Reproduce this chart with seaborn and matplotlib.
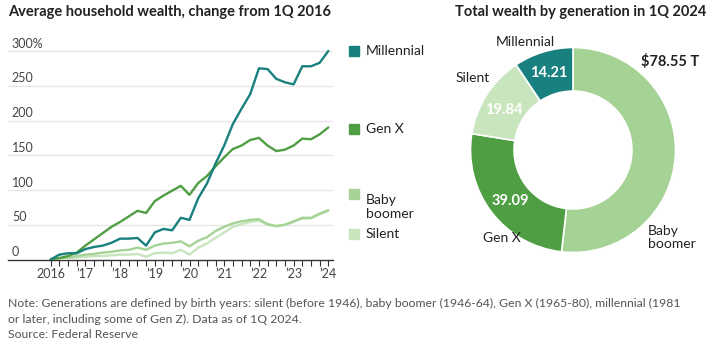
import numpy as np
import pandas as pd
import seaborn as sns
import matplotlib
matplotlib.use("Agg")
import matplotlib.pyplot as plt
from matplotlib.patches import Rectangle
import matplotlib.transforms as mtransforms

sns.set_theme(style="white")
plt.rcParams['font.family'] = ['Lato', 'DejaVu Sans']

# ---------------- data ----------------
generations = ["Millennial", "Gen X", "Baby boomer", "Silent"]
colors = ["#18807e", "#4f9e43", "#a5d395", "#c8e5bd"]

# quarterly, 1Q 2016 .. 1Q 2024 (% change from 1Q 2016)
millennial = [0, 7, 9, 9, 15, 18, 20, 24, 30, 30, 31, 20, 39, 44, 42, 60, 57,
              88, 109, 138, 164, 195, 217, 238, 275, 274, 260, 255, 252, 278,
              278, 283, 300]
gen_x = [0, 2, 5, 10, 20, 29, 38, 47, 54, 62, 70, 67, 84, 92, 99, 106, 93,
         110, 120, 134, 147, 159, 164, 172, 175, 164, 156, 158, 164, 174,
         173, 180, 190]
baby_boomer = [0, 2, 3, 5, 7, 8, 10, 11, 13, 14, 17, 14, 20, 23, 24, 26, 19,
               27, 32, 41, 47, 52, 55, 57, 58, 51, 48, 50, 55, 60, 60, 66, 71]
silent = [0, 1, 2, 3, 4, 5, 5, 6, 7, 7, 8, 4, 9, 10, 9, 14, 7,
          17, 23, 31, 39, 47, 51, 54, 56, 50, 48, 50, 54, 59, 59, 65, 70]

year_ticks = [2016, 2017, 2018, 2019, 2020, 2021, 2022, 2023, 2024]
year_labels = ["2016", "\u201917", "\u201918", "\u201919", "\u201920",
               "\u201921", "\u201922", "\u201923", "\u201924"]
y_ticks = [0, 50, 100, 150, 200, 250, 300]
y_labels = ["0", "50", "100", "150", "200", "250", "300%"]

donut_labels = ["Baby boomer", "Gen X", "Silent", "Millennial"]
donut_values = [78.55, 39.09, 19.84, 14.21]
donut_colors = ["#a5d395", "#4f9e43", "#c8e5bd", "#18807e"]

# ---------------- figure ----------------
W, H = 721, 353
fig = plt.figure(figsize=(W / 100, H / 100), dpi=100)
fig.patch.set_facecolor("white")

def fx(px):
    return px / W

def fy(py):
    return 1 - py / H

text_dark = "#222222"
text_mid = "#444444"

# ---------------- line chart ----------------
n = len(millennial)
quarters = [2016 + i / 4 for i in range(n)]
df = pd.DataFrame({
    "date": quarters * 4,
    "value": millennial + gen_x + baby_boomer + silent,
    "generation": sum([[g] * n for g in generations], []),
})

ax_left, ax_right, ax_top, ax_bot = 8, 333, 40, 259.5
ax = fig.add_axes([fx(ax_left), fy(ax_bot), fx(ax_right - ax_left),
                   (ax_bot - ax_top) / H])
ymax = 300 * (ax_bot - ax_top) / (ax_bot - 51)
x0 = 2016 + (ax_left - 50.7) / 34.7
x1 = 2016 + (ax_right - 50.7) / 34.7
ax.set_xlim(x0, x1)
ax.set_ylim(0, ymax)

for yv in y_ticks[1:]:
    ax.axhline(yv, color="#e6e6e6", lw=1.0, zorder=0)

sns.lineplot(data=df, x="date", y="value", hue="generation",
             hue_order=generations[::-1], palette=dict(zip(generations, colors)),
             linewidth=1.7, legend=False, ax=ax, zorder=3)

for s in ["top", "right", "left"]:
    ax.spines[s].set_visible(False)
ax.spines["bottom"].set_color("#333333")
ax.spines["bottom"].set_linewidth(1.0)
ax.set_yticks([])
ax.set_xlabel("")
ax.set_ylabel("")

# quarterly ticks
ax.set_xticks(quarters, minor=True)
ax.set_xticks(year_ticks)
ax.set_xticklabels(year_labels, fontsize=9, color=text_mid)
ax.tick_params(axis="x", which="both", direction="out", length=4,
               width=0.8, color="#333333", bottom=True, pad=2)
ax.tick_params(axis="x", which="major", length=4)

trans = mtransforms.blended_transform_factory(ax.transAxes, ax.transData)
for yv, lab in zip(y_ticks, y_labels):
    ax.text(0.012, yv + 2, lab, transform=trans, ha="left", va="bottom",
            fontsize=9, color=text_mid)

# legend
leg_pos = [(51, ["Millennial"]), (129, ["Gen X"]),
           (194, ["Baby", "boomer"]), (234, ["Silent"])]
for (py, lines), col in zip(leg_pos, colors):
    fig.patches.append(Rectangle((fx(349), fy(py + 5)), 10 / W, 10 / H,
                                 transform=fig.transFigure, color=col,
                                 figure=fig))
    fig.text(fx(366), fy(py), "\n".join(lines), ha="left", va="top" if len(lines) > 1 else "center",
             fontsize=10, color=text_dark, linespacing=1.15)

fig.text(fx(8), fy(12), "Average household wealth, change from 1Q 2016",
         fontsize=10.5, fontweight="bold", color=text_dark, va="center")

# ---------------- donut ----------------
cx, cy, R = 573, 150, 102.5
side = 2 * R * 1.25
axd = fig.add_axes([fx(cx - side / 2), fy(cy + side / 2), side / W, side / H])
axd.pie(donut_values, colors=donut_colors, startangle=90, counterclock=False,
        radius=1.0, wedgeprops=dict(width=0.425, edgecolor="white", linewidth=1.2))
axd.set_xlim(-1.25, 1.25)
axd.set_ylim(-1.25, 1.25)

axd.text(-0.47, 1.05, "Millennial", ha="center", va="center", fontsize=10, color=text_dark)
axd.text(-0.98, 0.70, "Silent", ha="center", va="center", fontsize=10, color=text_dark)
axd.text(-0.69, -0.86, "Gen X", ha="center", va="center", fontsize=10, color=text_dark)
axd.text(0.73, -0.85, "Baby\nboomer", ha="left", va="center", fontsize=10,
         color=text_dark, linespacing=1.1)
axd.text(0.95, 0.86, f"${donut_values[0]:.2f} T", ha="center", va="center",
         fontsize=10.5, fontweight="bold", color=text_dark)
axd.text(-0.24, 0.75, f"{donut_values[3]:.2f}", ha="center", va="center",
         fontsize=10.5, fontweight="bold", color="white")
axd.text(-0.68, 0.39, f"{donut_values[2]:.2f}", ha="center", va="center",
         fontsize=10.5, fontweight="bold", color="white")
axd.text(-0.61, -0.50, f"{donut_values[1]:.2f}", ha="center", va="center",
         fontsize=10.5, fontweight="bold", color="white")

fig.text(fx(455), fy(12), "Total wealth by generation in 1Q 2024",
         fontsize=10.5, fontweight="bold", color=text_dark, va="center")

# ---------------- footnote ----------------
fig.text(fx(8), fy(298),
         "Note: Generations are defined by birth years: silent (before 1946), baby boomer (1946-64), Gen X (1965-80), millennial (1981\n"
         "or later, including some of Gen Z). Data as of 1Q 2024.\nSource: Federal Reserve",
         ha="left", va="top", fontsize=8.8, color="#555555", linespacing=1.5)

fig.savefig("out.png", dpi=100, facecolor="white")
